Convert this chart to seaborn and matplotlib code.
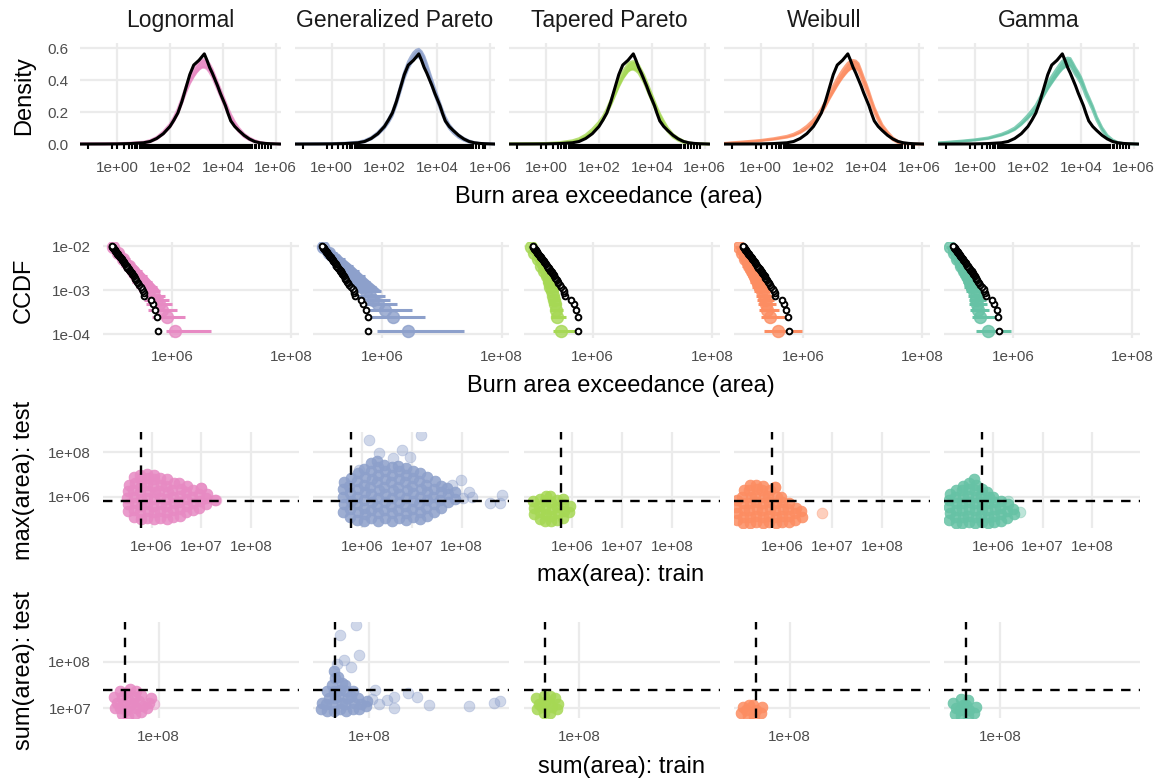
import numpy as np
import matplotlib
matplotlib.use("Agg")
import matplotlib.pyplot as plt
import seaborn as sns
from matplotlib.ticker import FuncFormatter, NullLocator

sns.set_theme(style="white")
plt.rcParams['font.family'] = ['Liberation Sans', 'DejaVu Sans']

# ---------------- data ----------------
models = ["Lognormal", "Generalized Pareto", "Tapered Pareto", "Weibull", "Gamma"]
set2 = sns.color_palette("Set2")
model_colors = [set2[3], set2[2], set2[4], set2[1], set2[0]]

# Row 1: densities on log10(area)
dens_log_area = [-1.4, -0.5, 0.0, 0.5, 1.0, 1.25, 1.5, 1.75, 2.0, 2.15, 2.3, 2.45, 2.6, 2.75, 2.9, 3.0, 3.1, 3.2, 3.3,
                 3.4, 3.5, 3.6, 3.7, 3.8, 3.9, 4.0, 4.1, 4.2, 4.3, 4.45, 4.6, 4.8, 5.0, 5.2, 5.4, 5.6, 5.8, 6.18]
obs_density = [0, 0.0005, 0.001, 0.003, 0.008, 0.016, 0.035, 0.065, 0.11, 0.15, 0.195, 0.265, 0.35, 0.435, 0.495, 0.51,
               0.525, 0.545, 0.565, 0.525, 0.48, 0.445, 0.405, 0.365, 0.32, 0.28, 0.24, 0.19, 0.145, 0.11, 0.085, 0.055,
               0.032, 0.016, 0.008, 0.004, 0.002, 0]
lnorm_density = [0.001, 0.001, 0.002, 0.004, 0.009, 0.018, 0.037, 0.07, 0.115, 0.155, 0.205, 0.27, 0.34, 0.40, 0.445,
                 0.47, 0.49, 0.503, 0.505, 0.497, 0.475, 0.445, 0.405, 0.365, 0.325, 0.285, 0.245, 0.205, 0.17, 0.125,
                 0.09, 0.055, 0.033, 0.018, 0.009, 0.004, 0.002, 0.0]
gp_density = [0.0005, 0.001, 0.002, 0.004, 0.009, 0.018, 0.036, 0.066, 0.108, 0.145, 0.19, 0.26, 0.345, 0.43, 0.495,
              0.525, 0.55, 0.565, 0.57, 0.555, 0.525, 0.48, 0.43, 0.38, 0.33, 0.285, 0.24, 0.195, 0.155, 0.11, 0.08,
              0.05, 0.03, 0.016, 0.008, 0.004, 0.002, 0.0]
tp_density = [0.001, 0.002, 0.003, 0.007, 0.018, 0.03, 0.052, 0.085, 0.128, 0.16, 0.205, 0.26, 0.32, 0.38, 0.43,
              0.455, 0.478, 0.49, 0.493, 0.485, 0.47, 0.44, 0.41, 0.37, 0.33, 0.29, 0.25, 0.21, 0.175, 0.13, 0.09,
              0.052, 0.03, 0.014, 0.006, 0.002, 0.001, 0.0]
wb_density = [0.004, 0.015, 0.022, 0.032, 0.046, 0.058, 0.077, 0.105, 0.142, 0.17, 0.207, 0.25, 0.30, 0.345, 0.388,
              0.415, 0.44, 0.462, 0.482, 0.495, 0.50, 0.497, 0.482, 0.44, 0.395, 0.355, 0.31, 0.26, 0.215, 0.16, 0.11,
              0.068, 0.033, 0.013, 0.004, 0.001, 0.0, 0.0]
gm_density = [0.007, 0.018, 0.026, 0.037, 0.059, 0.075, 0.096, 0.13, 0.172, 0.2, 0.23, 0.275, 0.32, 0.365, 0.403,
              0.428, 0.452, 0.475, 0.495, 0.508, 0.515, 0.513, 0.485, 0.455, 0.43, 0.40, 0.36, 0.315, 0.28, 0.225,
              0.16, 0.095, 0.048, 0.022, 0.008, 0.003, 0.001, 0.0]
band_spread = [0.001, 0.002, 0.002, 0.003, 0.004, 0.005, 0.006, 0.008, 0.01, 0.012, 0.014, 0.016, 0.018, 0.02, 0.021,
               0.022, 0.023, 0.024, 0.025, 0.025, 0.025, 0.024, 0.023, 0.022, 0.021, 0.02, 0.018, 0.017, 0.015, 0.013,
               0.011, 0.009, 0.007, 0.005, 0.003, 0.002, 0.001, 0.0005]
rug_log_area = [-1.08, -0.19, 0.0, 0.25, 0.44, 0.57, 0.69, 0.77, 0.87, 0.92, 0.99, 1.04, 1.11, 1.14, 1.21, 1.24, 1.3, 1.33, 1.38, 1.42,
                1.46, 1.49, 1.54, 1.57, 1.62, 1.64, 1.7, 1.72, 1.77, 1.8, 1.85, 1.88, 1.93, 1.96, 2.01, 2.04, 2.08, 2.13, 2.16, 2.2,
                2.25, 2.28, 2.33, 2.36, 2.41, 2.44, 2.48, 2.53, 2.56, 2.61, 2.64, 2.68, 2.73, 2.76, 2.8, 2.85, 2.88, 2.93, 2.96, 3.0,
                3.05, 3.08, 3.12, 3.17, 3.2, 3.25, 3.28, 3.33, 3.36, 3.4, 3.45, 3.48, 3.53, 3.56, 3.6, 3.65, 3.68, 3.72, 3.77, 3.8,
                3.85, 3.88, 3.92, 3.97, 4.0, 4.05, 4.08, 4.12, 4.17, 4.2, 4.25, 4.28, 4.33, 4.36, 4.41, 4.45, 4.49, 4.54, 4.58, 4.63,
                4.67, 4.72, 4.77, 4.81, 4.87, 4.93, 4.99, 5.06, 5.12, 5.2, 5.27, 5.36, 5.47, 5.59, 5.72, 5.82]

# Row 2: CCDF (observed and predicted); x in log10(area)
obs_ccdf = [1.211e-4, 2.421e-4, 3.632e-4, 4.843e-4, 6.053e-4, 7.264e-4, 8.475e-4, 9.685e-4, 1.0896e-3, 1.2107e-3,
            1.3317e-3, 1.4528e-3, 1.5738e-3, 1.6949e-3, 1.816e-3, 1.937e-3, 2.058e-3, 2.179e-3, 2.300e-3, 2.421e-3,
            2.542e-3, 2.663e-3, 2.785e-3, 2.906e-3, 3.027e-3, 3.148e-3, 3.269e-3, 3.390e-3, 3.511e-3, 3.632e-3,
            3.874e-3, 4.116e-3, 4.358e-3, 4.600e-3, 4.843e-3, 5.085e-3, 5.327e-3, 5.569e-3, 5.811e-3, 6.053e-3,
            6.295e-3, 6.538e-3, 6.780e-3, 7.022e-3, 7.264e-3, 7.506e-3, 7.748e-3, 7.990e-3, 8.232e-3, 8.475e-3,
            8.717e-3, 8.959e-3, 9.201e-3, 9.443e-3, 9.685e-3, 9.927e-3]
obs_log_area = [5.76, 5.75, 5.72, 5.68, 5.64, 5.535, 5.525, 5.515, 5.50, 5.47,
                5.443, 5.425, 5.41, 5.395, 5.38, 5.37, 5.355, 5.345, 5.33, 5.32,
                5.31, 5.30, 5.29, 5.28, 5.27, 5.26, 5.25, 5.245, 5.235, 5.228,
                5.213, 5.20, 5.187, 5.175, 5.163, 5.152, 5.14, 5.13, 5.12, 5.11,
                5.10, 5.09, 5.082, 5.073, 5.065, 5.057, 5.049, 5.041, 5.034, 5.027,
                5.02, 5.014, 5.008, 5.003, 4.997, 4.99]
pred_ccdf = [1.21e-4, 2.42e-4, 3.63e-4, 4.84e-4, 6.05e-4, 7.26e-4, 9.69e-4, 1.21e-3, 1.57e-3, 2.06e-3, 2.66e-3, 3.63e-3, 5.08e-3, 7.02e-3, 9.69e-3]
lnorm_ccdf_lo = [5.90, 5.66, 5.60, 5.57, 5.53, 5.50, 5.44, 5.39, 5.33, 5.27, 5.22, 5.15, 5.07, 5.00, 4.93]
lnorm_ccdf_med = [6.05, 5.91, 5.83, 5.78, 5.74, 5.70, 5.62, 5.56, 5.48, 5.41, 5.35, 5.27, 5.18, 5.10, 5.01]
lnorm_ccdf_hi = [6.66, 6.22, 6.09, 6.00, 5.94, 5.88, 5.80, 5.74, 5.66, 5.58, 5.50, 5.40, 5.29, 5.19, 5.09]
gp_ccdf_lo = [5.91, 5.80, 5.71, 5.66, 5.62, 5.58, 5.50, 5.45, 5.38, 5.31, 5.24, 5.16, 5.07, 4.99, 4.90]
gp_ccdf_med = [6.43, 6.17, 6.05, 5.92, 5.85, 5.80, 5.72, 5.65, 5.57, 5.49, 5.41, 5.31, 5.21, 5.11, 5.00]
gp_ccdf_hi = [7.37, 6.71, 6.49, 6.25, 6.12, 6.05, 5.98, 5.90, 5.80, 5.70, 5.61, 5.50, 5.37, 5.24, 5.09]
tp_ccdf_lo = [5.34, 5.30, 5.28, 5.27, 5.26, 5.25, 5.22, 5.20, 5.17, 5.14, 5.10, 5.06, 5.01, 4.96, 4.92]
tp_ccdf_med = [5.47, 5.40, 5.38, 5.36, 5.35, 5.34, 5.31, 5.29, 5.26, 5.23, 5.19, 5.14, 5.08, 5.02, 4.97]
tp_ccdf_hi = [5.71, 5.55, 5.50, 5.47, 5.45, 5.44, 5.42, 5.40, 5.37, 5.33, 5.29, 5.24, 5.17, 5.10, 5.04]
wb_ccdf_lo = [5.34, 5.29, 5.26, 5.24, 5.22, 5.21, 5.18, 5.15, 5.11, 5.07, 5.03, 4.98, 4.94, 4.90, 4.86]
wb_ccdf_med = [5.58, 5.44, 5.40, 5.38, 5.36, 5.34, 5.31, 5.28, 5.24, 5.19, 5.14, 5.09, 5.03, 4.97, 4.92]
wb_ccdf_hi = [5.98, 5.74, 5.60, 5.55, 5.52, 5.50, 5.47, 5.44, 5.40, 5.35, 5.30, 5.24, 5.17, 5.10, 5.02]
gm_ccdf_lo = [5.37, 5.30, 5.28, 5.26, 5.25, 5.24, 5.21, 5.18, 5.15, 5.11, 5.07, 5.02, 4.97, 4.92, 4.87]
gm_ccdf_med = [5.57, 5.44, 5.41, 5.39, 5.38, 5.37, 5.34, 5.31, 5.27, 5.23, 5.18, 5.12, 5.06, 5.00, 4.94]
gm_ccdf_hi = [5.96, 5.71, 5.60, 5.56, 5.54, 5.53, 5.49, 5.46, 5.42, 5.37, 5.32, 5.26, 5.19, 5.12, 5.04]

# Row 3: max(area) train vs test (log10)
obs_max_train, obs_max_test = 5.78, 5.80
lnorm_max_train = [5.52, 5.53, 5.51, 5.52, 5.54,
                   5.65, 5.64, 5.66, 5.65, 5.63, 5.66, 5.65,
                   5.78, 5.77, 5.79, 5.78, 5.76, 5.79, 5.78, 5.77,
                   5.91, 5.92, 5.90, 5.91, 5.93, 5.90, 5.92, 5.91,
                   6.04, 6.05, 6.03, 6.04, 6.06, 6.03, 6.05, 6.04,
                   6.17, 6.16, 6.18, 6.17, 6.15, 6.18, 6.17,
                   6.30, 6.31, 6.29, 6.30, 6.32, 6.29, 6.30,
                   6.43, 6.42, 6.44, 6.43, 6.41, 6.44,
                   6.56, 6.57, 6.55, 6.56, 6.58, 6.55,
                   6.69, 6.70, 6.68, 6.69, 6.71,
                   6.82, 6.83, 6.81, 6.82,
                   6.95, 6.96, 6.94, 7.00,
                   7.10, 7.09, 7.12,
                   7.28]
lnorm_max_test = [5.35, 5.65, 5.95, 6.25, 6.55,
                  5.10, 5.40, 5.70, 6.00, 6.30, 6.60, 6.90,
                  5.00, 5.30, 5.60, 5.90, 6.20, 6.50, 6.80, 7.00,
                  5.05, 5.35, 5.65, 5.95, 6.25, 6.55, 6.85, 7.02,
                  5.00, 5.30, 5.60, 5.90, 6.20, 6.50, 6.80, 7.00,
                  5.05, 5.35, 5.65, 5.95, 6.25, 6.55, 6.85,
                  5.00, 5.30, 5.60, 5.90, 6.20, 6.50, 6.80,
                  5.10, 5.40, 5.70, 6.00, 6.30, 6.60,
                  5.15, 5.45, 5.75, 6.05, 6.35, 6.60,
                  5.30, 5.60, 5.90, 6.20, 6.50,
                  5.40, 5.70, 6.00, 6.30,
                  5.50, 5.80, 6.10, 6.38,
                  5.65, 5.95, 6.10,
                  5.85]
gp_max_train = [5.62, 5.63, 5.61, 5.62, 5.64,
                5.76, 5.75, 5.77, 5.76, 5.74, 5.77,
                5.90, 5.91, 5.89, 5.90, 5.92, 5.89, 5.91,
                6.04, 6.05, 6.03, 6.04, 6.06, 6.03, 6.05, 6.04,
                6.18, 6.17, 6.19, 6.18, 6.16, 6.19, 6.18, 6.17,
                6.32, 6.33, 6.31, 6.32, 6.34, 6.31, 6.33, 6.32, 6.30,
                6.46, 6.45, 6.47, 6.46, 6.44, 6.47, 6.46, 6.45,
                6.60, 6.61, 6.59, 6.60, 6.62, 6.59, 6.61, 6.60,
                6.74, 6.73, 6.75, 6.74, 6.72, 6.75, 6.74, 6.73,
                6.88, 6.89, 6.87, 6.88, 6.90, 6.87, 6.89, 6.88,
                7.02, 7.01, 7.03, 7.02, 7.00, 7.03, 7.02,
                7.16, 7.17, 7.15, 7.16, 7.18, 7.15, 7.17,
                7.30, 7.29, 7.31, 7.30, 7.28, 7.31,
                7.44, 7.45, 7.43, 7.44, 7.46,
                7.58, 7.57, 7.59, 7.58,
                7.72, 7.73, 7.71,
                7.86, 7.87]
gp_max_test = [5.30, 5.65, 6.00, 6.35, 6.65,
               5.10, 5.45, 5.80, 6.15, 6.50, 6.85,
               4.95, 5.30, 5.65, 6.00, 6.35, 6.70, 7.05,
               4.90, 5.20, 5.50, 5.85, 6.20, 6.55, 6.90, 7.25,
               5.05, 5.40, 5.75, 6.10, 6.45, 6.80, 7.15, 7.50,
               4.90, 5.25, 5.60, 5.95, 6.30, 6.65, 7.00, 7.35, 7.60,
               5.05, 5.40, 5.75, 6.10, 6.45, 6.80, 7.15, 7.45,
               4.92, 5.25, 5.60, 5.95, 6.30, 6.65, 7.00, 7.35,
               5.05, 5.40, 5.75, 6.10, 6.45, 6.80, 7.15, 7.40,
               4.95, 5.25, 5.60, 5.95, 6.30, 6.65, 7.00, 7.30,
               5.10, 5.45, 5.80, 6.15, 6.50, 6.85, 7.15,
               4.98, 5.30, 5.65, 6.00, 6.35, 6.70, 7.05,
               5.15, 5.50, 5.85, 6.20, 6.55, 6.90,
               5.30, 5.65, 6.00, 6.35, 6.70,
               5.50, 5.85, 6.20, 6.50,
               5.75, 6.10, 6.40,
               5.90, 6.20]
gp_max_out_train = [6.14, 7.18, 6.35, 6.80, 6.97, 6.63, 5.93, 7.98, 8.15, 8.22, 8.57, 8.81, 8.78, 7.80, 8.02]
gp_max_out_test = [8.55, 8.78, 7.95, 8.10, 7.80, 7.75, 7.20, 6.75, 6.23, 6.00, 5.70, 6.07, 5.70, 6.55, 5.95]
tp_max_train = [5.22, 5.23, 5.21, 5.34, 5.35, 5.33, 5.34, 5.46, 5.47, 5.45, 5.46, 5.48, 5.58, 5.57,
                5.59, 5.58, 5.56, 5.70, 5.71, 5.69, 5.70, 5.82, 5.83, 5.81, 5.82, 5.94, 5.95]
tp_max_test = [5.20, 5.50, 5.80, 5.00, 5.30, 5.60, 5.90, 4.90, 5.20, 5.50, 5.80, 6.05, 4.90, 5.15,
               5.45, 5.75, 6.05, 4.95, 5.25, 5.55, 5.85, 5.05, 5.35, 5.65, 5.90, 5.30, 5.60]
wb_max_train = [5.08, 5.09, 5.07, 5.08,
                5.21, 5.20, 5.22, 5.21, 5.19, 5.22,
                5.34, 5.35, 5.33, 5.34, 5.36, 5.33, 5.35,
                5.47, 5.46, 5.48, 5.47, 5.45, 5.48, 5.47,
                5.60, 5.61, 5.59, 5.60, 5.62, 5.59, 5.61,
                5.73, 5.72, 5.74, 5.73, 5.71, 5.74,
                5.86, 5.87, 5.85, 5.86, 5.88, 5.85,
                5.99, 5.98, 6.00, 5.99, 5.97,
                6.12, 6.13, 6.11, 6.12,
                6.25, 6.24, 6.26,
                6.38, 6.37]
wb_max_test = [4.95, 5.25, 5.55, 5.85,
               4.80, 5.10, 5.40, 5.70, 6.00, 6.30,
               4.80, 5.10, 5.40, 5.70, 6.00, 6.30, 6.55,
               4.85, 5.15, 5.45, 5.75, 6.05, 6.35, 6.55,
               4.80, 5.10, 5.40, 5.70, 6.00, 6.30, 6.50,
               4.85, 5.15, 5.45, 5.75, 6.05, 6.30,
               4.80, 5.10, 5.40, 5.70, 6.00, 6.45,
               4.85, 5.15, 5.45, 5.75, 6.00,
               4.85, 5.15, 5.45, 5.70,
               4.95, 5.25, 5.50,
               5.10, 5.35]
wb_max_out_train = [6.80, 5.85]
wb_max_out_test = [5.25, 6.45]
gm_max_train = [5.12, 5.13, 5.11, 5.12, 5.14,
                5.25, 5.24, 5.26, 5.25, 5.23, 5.26,
                5.38, 5.39, 5.37, 5.38, 5.40, 5.37, 5.39,
                5.51, 5.50, 5.52, 5.51, 5.49, 5.52, 5.51,
                5.64, 5.65, 5.63, 5.64, 5.66, 5.63, 5.65, 5.62,
                5.77, 5.76, 5.78, 5.77, 5.75, 5.78,
                5.90, 5.91, 5.89, 5.90, 5.92, 5.89,
                6.03, 6.02, 6.04, 6.03, 6.01,
                6.16, 6.17, 6.15, 6.16,
                6.29, 6.28, 6.30,
                6.42, 6.41]
gm_max_test = [4.95, 5.25, 5.55, 5.85, 6.10,
               4.80, 5.10, 5.40, 5.70, 6.00, 6.30,
               4.80, 5.10, 5.40, 5.70, 6.00, 6.30, 6.50,
               4.85, 5.15, 5.45, 5.75, 6.05, 6.35, 6.60,
               4.80, 5.10, 5.40, 5.70, 6.00, 6.30, 6.55, 6.78,
               4.85, 5.15, 5.45, 5.75, 6.05, 6.35,
               4.80, 5.10, 5.40, 5.70, 6.00, 6.20,
               4.85, 5.15, 5.45, 5.75, 6.00,
               4.90, 5.20, 5.50, 5.80,
               5.05, 5.35, 5.65,
               5.20, 5.45]
gm_max_out_train = [6.54, 6.30]
gm_max_out_test = [5.30, 5.80]
lnorm_max_out_train = [7.00, 7.30]
lnorm_max_out_test = [6.38, 5.85]

# Row 4: sum(area) train vs test (log10)
obs_sum_train, obs_sum_test = 7.79, 7.39
lnorm_sum_train = [7.73, 7.74, 7.72, 7.77, 7.76, 7.78, 7.77, 7.76, 7.81, 7.80, 7.82, 7.81, 7.80, 7.82,
                   7.85, 7.86, 7.84, 7.85, 7.86, 7.89, 7.90, 7.88, 7.89, 7.93, 7.94, 7.95]
lnorm_sum_test = [7.00, 7.12, 7.24, 6.88, 7.00, 7.12, 7.24, 7.36, 6.84, 6.96, 7.08, 7.20, 7.32, 7.42,
                  6.88, 7.00, 7.12, 7.24, 7.36, 6.92, 7.04, 7.16, 7.28, 7.00, 7.12, 7.22]
gp_sum_train = [7.70, 7.71, 7.74, 7.73, 7.75, 7.74, 7.78, 7.77, 7.79, 7.78, 7.77, 7.79, 7.78,
                7.82, 7.83, 7.81, 7.82, 7.83, 7.81, 7.86, 7.85, 7.87, 7.86, 7.85, 7.90, 7.91, 7.89, 7.90,
                7.94, 7.95, 7.93, 7.98, 7.99]
gp_sum_test = [6.98, 7.12, 6.95, 7.09, 7.23, 7.37, 6.95, 7.09, 7.23, 7.37, 7.51, 7.65, 7.80,
               6.98, 7.12, 7.26, 7.40, 7.54, 7.68, 6.95, 7.09, 7.23, 7.37, 7.50, 6.98, 7.12, 7.26, 7.38,
               6.98, 7.10, 7.22, 7.05, 7.15]
gp_sum_out_train = [7.917, 7.82, 7.94, 7.845, 7.886, 7.80, 8.04, 8.115, 8.156, 8.156, 8.24, 8.30, 8.375, 8.625, 8.78, 8.817, 8.02, 8.06]
gp_sum_out_test = [8.79, 8.57, 8.14, 8.04, 7.89, 7.95, 7.39, 7.18, 7.25, 7.00, 7.32, 7.25, 7.07, 7.05, 7.12, 7.16, 7.20, 7.10]
tp_sum_train = [7.74, 7.75, 7.73, 7.78, 7.77, 7.79, 7.78, 7.82, 7.83, 7.81, 7.82, 7.86, 7.87, 7.85]
tp_sum_test = [6.98, 7.10, 7.22, 6.90, 7.02, 7.14, 7.26, 6.90, 7.02, 7.14, 7.26, 6.98, 7.10, 7.22]
wb_sum_train = [7.70, 7.71, 7.74, 7.73, 7.75, 7.78, 7.79, 7.77, 7.82, 7.83]
wb_sum_test = [6.90, 7.02, 6.84, 6.96, 7.08, 6.84, 6.96, 7.08, 6.90, 7.02]
gm_sum_train = [7.72, 7.73, 7.71, 7.76, 7.75, 7.77, 7.76, 7.80, 7.81, 7.79, 7.80, 7.84, 7.85]
gm_sum_test = [6.88, 7.00, 7.12, 6.84, 6.96, 7.08, 7.20, 6.84, 6.96, 7.08, 7.18, 6.90, 7.02]
lnorm_sum_out_train = [7.97]
lnorm_sum_out_test = [7.10]

dens_models = [lnorm_density, gp_density, tp_density, wb_density, gm_density]
ccdf_preds = [(lnorm_ccdf_lo, lnorm_ccdf_med, lnorm_ccdf_hi), (gp_ccdf_lo, gp_ccdf_med, gp_ccdf_hi),
              (tp_ccdf_lo, tp_ccdf_med, tp_ccdf_hi), (wb_ccdf_lo, wb_ccdf_med, wb_ccdf_hi),
              (gm_ccdf_lo, gm_ccdf_med, gm_ccdf_hi)]
max_pts = [(lnorm_max_train, lnorm_max_test), (gp_max_train, gp_max_test), (tp_max_train, tp_max_test),
           (wb_max_train, wb_max_test), (gm_max_train, gm_max_test)]
max_out = [(lnorm_max_out_train, lnorm_max_out_test), (gp_max_out_train, gp_max_out_test), ([], []),
           (wb_max_out_train, wb_max_out_test), (gm_max_out_train, gm_max_out_test)]
sum_pts = [(lnorm_sum_train, lnorm_sum_test), (gp_sum_train, gp_sum_test), (tp_sum_train, tp_sum_test),
           (wb_sum_train, wb_sum_test), (gm_sum_train, gm_sum_test)]
sum_out = [(lnorm_sum_out_train, lnorm_sum_out_test), (gp_sum_out_train, gp_sum_out_test), ([], []), ([], []), ([], [])]

# ---------------- layout ----------------
W, H = 1155, 782
fig = plt.figure(figsize=(W / 100, H / 100), dpi=100)
GRID = '#EBEBEB'
TICK_C = '#4D4D4D'
TICK_FS = 11
TITLE_FS = 17
BODY_ALPHA = 0.85
OUT_ALPHA = 0.42


def add_ax(left, top, width, height):
    return fig.add_axes([left / W, 1 - (top + height) / H, width / W, height / H])


def sci(v, pos):
    return f"{v:.0e}"


def style(ax, xticks, yticks, first, yfmt=None):
    ax.set_xticks(xticks)
    ax.set_yticks(yticks)
    ax.xaxis.set_minor_locator(NullLocator())
    ax.yaxis.set_minor_locator(NullLocator())
    ax.xaxis.set_major_formatter(FuncFormatter(sci))
    ax.yaxis.set_major_formatter(FuncFormatter(yfmt if yfmt else sci))
    ax.grid(True, color=GRID, lw=1.6)
    ax.set_axisbelow(True)
    for s in ax.spines.values():
        s.set_visible(False)
    ax.tick_params(axis='both', which='both', length=0, labelsize=TICK_FS, colors=TICK_C)
    ax.tick_params(axis='x', pad=8.5)
    ax.tick_params(axis='y', pad=8.5, labelleft=first)
    ax.set_xlabel('')
    ax.set_ylabel('')
    ax.set_facecolor('white')


def scatter_pts(ax, xs, ys, c, alpha):
    if len(xs) == 0:
        return
    sns.scatterplot(x=10 ** np.array(xs), y=10 ** np.array(ys), color=c, s=60, alpha=alpha,
                    edgecolor=c, linewidth=0.6, ax=ax)


# Row 1: densities
r1_left, r1_step, r1_w, r1_top, r1_h = 80, 214.5, 200.5, 43, 106
xg = 10 ** np.array(dens_log_area)
spread = np.array(band_spread)
rug_x = 10 ** np.array(rug_log_area)
for j, m in enumerate(models):
    ax = add_ax(r1_left + j * r1_step, r1_top, r1_w, r1_h)
    c = model_colors[j]
    dm = np.array(dens_models[j])
    ax.set_xscale('log')
    ax.fill_between(xg, dm - spread, dm + spread, color=c, alpha=0.95, lw=0)
    sns.lineplot(x=xg, y=dm - spread, color=c, linewidth=1.8, alpha=0.8, ax=ax)
    sns.lineplot(x=xg, y=dm + spread, color=c, linewidth=1.8, alpha=0.8, ax=ax)
    ax.vlines(rug_x, 0, 0.05, transform=ax.get_xaxis_transform(), colors='black', alpha=1.0, linewidth=1.5)
    sns.lineplot(x=xg, y=obs_density, color='black', linewidth=2.2, ax=ax)
    ax.set_xlim(10 ** -1.40, 10 ** 6.18)
    ax.set_ylim(-0.031, 0.633)
    style(ax, [1e0, 1e2, 1e4, 1e6], [0, 0.2, 0.4, 0.6], j == 0, yfmt=lambda v, p: f"{v:.1f}")
    fig.text((r1_left + j * r1_step + r1_w / 2) / W, 1 - 27 / H, m, ha='center', va='baseline',
             fontsize=16.5, color='#1A1A1A')

# Rows 2-4 layout
rl, rs, rw = 103, 210.3, 196

# Row 2: CCDF
r2_top, r2_h = 241.7, 96.6
yv = np.array(pred_ccdf)
for j, m in enumerate(models):
    ax = add_ax(rl + j * rs, r2_top, rw, r2_h)
    c = model_colors[j]
    lo, med, hi = (10 ** np.array(a) for a in ccdf_preds[j])
    ax.set_xscale('log')
    ax.set_yscale('log')
    ax.fill_betweenx(yv[6:], lo[6:], hi[6:], color=c, lw=0)
    ax.hlines(yv, lo, hi, color=c, lw=2.2)
    sns.scatterplot(x=med, y=yv, color=c, s=75, alpha=0.8, edgecolor=c, linewidth=1.0, ax=ax, zorder=3)
    sns.scatterplot(x=10 ** np.array(obs_log_area), y=obs_ccdf, color='white', edgecolor='black',
                    s=17, linewidth=1.4, ax=ax, zorder=4)
    ax.set_xlim(10 ** 4.84, 10 ** 8.13)
    ax.set_ylim(10 ** -4.09, 10 ** -1.90)
    style(ax, [1e6, 1e8], [1e-4, 1e-3, 1e-2], j == 0)

# Row 3: max scatter
r3_top, r3_h = 431.7, 96.3
for j, m in enumerate(models):
    ax = add_ax(rl + j * rs, r3_top, rw, r3_h)
    c = model_colors[j]
    ax.set_xscale('log')
    ax.set_yscale('log')
    scatter_pts(ax, *max_pts[j], c, BODY_ALPHA)
    scatter_pts(ax, *max_out[j], c, OUT_ALPHA)
    ax.axvline(10 ** obs_max_train, color='black', lw=1.7, ls=(0, (4, 3.5)))
    ax.axhline(10 ** obs_max_test, color='black', lw=1.7, ls=(0, (4, 3.5)))
    ax.set_xlim(10 ** 5.02, 10 ** 8.96)
    ax.set_ylim(10 ** 4.59, 10 ** 8.93)
    style(ax, [1e6, 1e7, 1e8], [1e6, 1e8], j == 0)

# Row 4: sum scatter
r4_top, r4_h = 621.7, 96.3
for j, m in enumerate(models):
    ax = add_ax(rl + j * rs, r4_top, rw, r4_h)
    c = model_colors[j]
    ax.set_xscale('log')
    ax.set_yscale('log')
    scatter_pts(ax, *sum_pts[j], c, BODY_ALPHA)
    scatter_pts(ax, *sum_out[j], c, OUT_ALPHA)
    ax.axvline(10 ** obs_sum_train, color='black', lw=1.7, ls=(0, (4, 3.5)))
    ax.axhline(10 ** obs_sum_test, color='black', lw=1.7, ls=(0, (4, 3.5)))
    ax.set_xlim(10 ** 7.654, 10 ** 8.873)
    ax.set_ylim(10 ** 6.79, 10 ** 8.86)
    style(ax, [1e8], [1e7, 1e8], j == 0)


def xt(xc, yc, s):
    fig.text(xc / W, 1 - yc / H, s, ha='center', va='center', fontsize=TITLE_FS, color='black')


def yt(xc, yc, s):
    fig.text(xc / W, 1 - yc / H, s, ha='center', va='center', rotation=90, fontsize=TITLE_FS, color='black')


xt(609, 197, "Burn area exceedance (area)")
xt(621, 386, "Burn area exceedance (area)")
xt(621, 575, "max(area): train")
xt(621, 767, "sum(area): train")
yt(24, 96, "Density")
yt(24, 290, "CCDF")
yt(24, 480, "max(area): test")
yt(24, 670, "sum(area): test")

fig.savefig("out.png", dpi=100, facecolor='white')
